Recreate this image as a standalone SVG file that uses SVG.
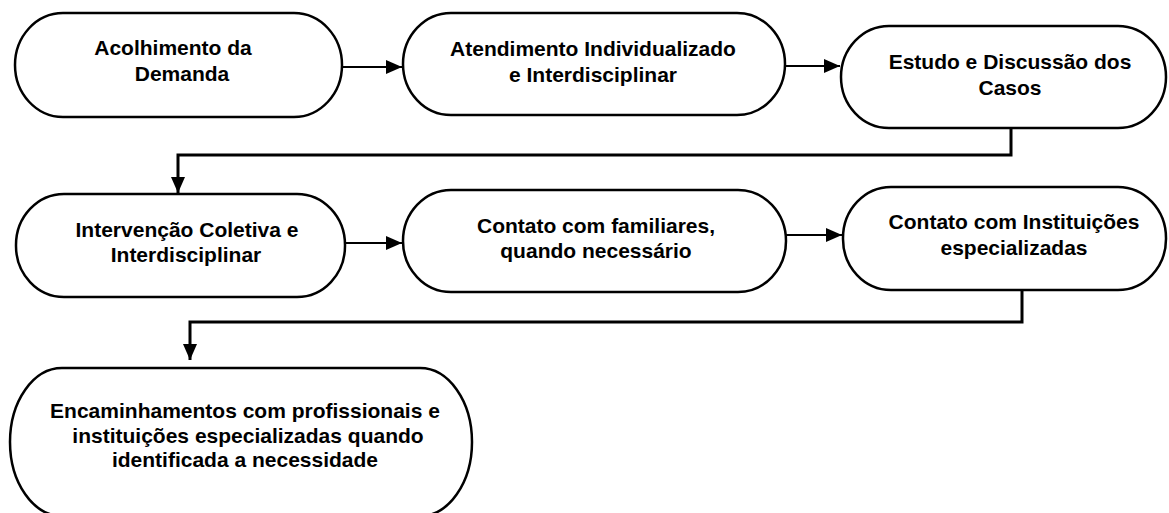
<svg xmlns="http://www.w3.org/2000/svg" width="1169" height="513" viewBox="0 0 1169 513">
<style>
.node{fill:#fff;stroke:#000;stroke-width:2.5}
.t{font-family:"Liberation Sans",Arial,sans-serif;font-weight:bold;font-size:21px;fill:#000;text-anchor:middle}
.a{fill:none;stroke:#000;stroke-width:2}
.c{fill:none;stroke:#000;stroke-width:3}
</style>
<defs>
<marker id="ah" markerUnits="userSpaceOnUse" markerWidth="16" markerHeight="16" viewBox="0 0 16 16" refX="16" refY="8" orient="auto">
<path d="M0,1 L16,8 L0,15 Z" fill="#000"/>
</marker>
</defs>
<rect width="1169" height="513" fill="#fff"/>
<g id="connectors">
<line class="a" x1="342" y1="67" x2="402" y2="67" marker-end="url(#ah)"/>
<line class="a" x1="785" y1="66" x2="840" y2="66" marker-end="url(#ah)"/>
<path class="c" d="M1011,128 V155 H178 V193" marker-end="url(#ah)"/>
<line class="a" x1="345" y1="243" x2="402" y2="243" marker-end="url(#ah)"/>
<line class="a" x1="786" y1="235" x2="842" y2="235" marker-end="url(#ah)"/>
<path class="c" d="M1022,290 V322 H190 V360" marker-end="url(#ah)"/>
</g>
<g id="n1">
<rect class="node" x="15" y="13" width="327" height="104" rx="48" ry="52"/>
<text class="t" x="173" y="55">Acolhimento da</text>
<text class="t" x="182" y="81">Demanda</text>
</g>
<g id="n2">
<rect class="node" x="403" y="13" width="382" height="102" rx="48" ry="51"/>
<text class="t" x="593" y="56">Atendimento Individualizado</text>
<text class="t" x="593" y="82">e Interdisciplinar</text>
</g>
<g id="n3">
<rect class="node" x="841" y="26" width="325" height="102" rx="48" ry="51"/>
<text class="t" x="1010" y="69">Estudo e Discussão dos</text>
<text class="t" x="1010" y="95">Casos</text>
</g>
<g id="n4">
<rect class="node" x="16" y="194" width="329" height="103" rx="48" ry="51"/>
<text class="t" x="187" y="237">Intervenção Coletiva e</text>
<text class="t" x="186" y="262">Interdisciplinar</text>
</g>
<g id="n5">
<rect class="node" x="403" y="190" width="383" height="102" rx="48" ry="51"/>
<text class="t" x="596" y="233">Contato com familiares,</text>
<text class="t" x="596" y="258">quando necessário</text>
</g>
<g id="n6">
<rect class="node" x="843" y="187" width="323" height="103" rx="48" ry="51"/>
<text class="t" x="1014" y="229">Contato com Instituições</text>
<text class="t" x="1014" y="255">especializadas</text>
</g>
<g id="n7">
<rect class="node" x="10" y="368" width="462" height="148" rx="52" ry="74"/>
<text class="t" x="245" y="418">Encaminhamentos com profissionais e</text>
<text class="t" x="248" y="443">instituições especializadas quando</text>
<text class="t" x="245" y="467">identificada a necessidade</text>
</g>
</svg>
